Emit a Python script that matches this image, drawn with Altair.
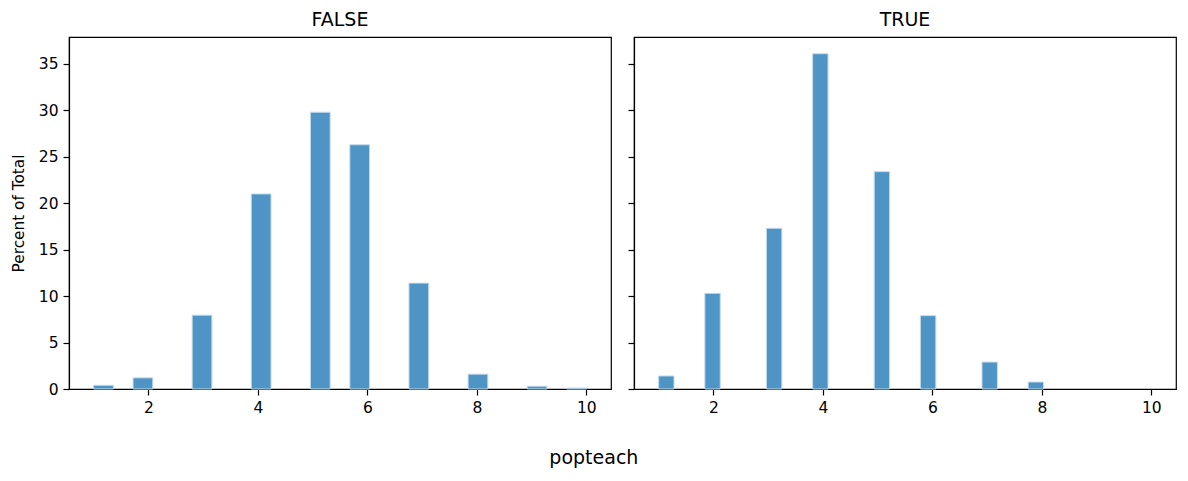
import altair as alt
import pandas as pd

# FALSE panel histogram bins (bin edges and percent of total)
false_lo = [1.00, 1.72, 2.80, 3.88, 4.96, 5.68, 6.76, 7.84, 8.92, 9.64]
false_hi = [1.36, 2.08, 3.16, 4.24, 5.32, 6.04, 7.12, 8.20, 9.28, 10.00]
false_pct = [0.4, 1.2, 7.95, 21.0, 29.8, 26.3, 11.4, 1.6, 0.3, 0.1]

# TRUE panel histogram bins
true_lo = [1.000, 1.844, 2.969, 3.813, 4.938, 5.781, 6.906, 7.750]
true_hi = [1.281, 2.125, 3.250, 4.094, 5.219, 6.063, 7.188, 8.031]
true_pct = [1.4, 10.3, 17.3, 36.1, 23.4, 7.9, 2.9, 0.75]

x_ticks = [2, 4, 6, 8, 10]
y_ticks = [0, 5, 10, 15, 20, 25, 30, 35]
x_domain = [0.55, 10.45]
y_domain = [0, 37.9]

FONT = "DejaVu Sans"


def panel(lo, hi, pct, name, first):
    df = pd.DataFrame({"lo": lo, "hi": hi, "pct": pct})
    if first:
        yax = alt.Axis(values=y_ticks, titleFontSize=15.3, titleFontWeight="normal",
                       titlePadding=11.5, titleColor="black")
        ytitle = "Percent of Total"
    else:
        yax = alt.Axis(values=y_ticks, labels=False)
        ytitle = None
    return (
        alt.Chart(df, title=alt.TitleParams(name, fontSize=19, fontWeight="normal",
                                            font=FONT, color="black", offset=7))
        .mark_rect(color="#4e94c4", stroke="#c2dbed", strokeWidth=1)
        .encode(
            x=alt.X("lo:Q", title=None,
                    scale=alt.Scale(domain=x_domain, nice=False, zero=False),
                    axis=alt.Axis(values=x_ticks)),
            x2="hi:Q",
            y=alt.Y("pct:Q", title=ytitle,
                    scale=alt.Scale(domain=y_domain, nice=False, zero=True),
                    axis=yax),
            y2=alt.datum(0),
        )
        .properties(width=542, height=352)
    )


left = panel(false_lo, false_hi, false_pct, "FALSE", True)
right = panel(true_lo, true_hi, true_pct, "TRUE", False)

chart = (
    alt.hconcat(left, right, spacing=14)
    .properties(
        title=alt.TitleParams("popteach", orient="bottom", anchor="middle",
                              fontSize=19, fontWeight="normal", font=FONT,
                              color="black", offset=33),
        padding={"left": 11, "top": 10, "right": 8, "bottom": 8},
    )
    .configure(font=FONT)
    .configure_view(stroke="black", strokeWidth=1.2)
    .configure_axis(
        grid=False,
        labelFont=FONT,
        labelFontSize=15.5,
        labelColor="black",
        labelPadding=5,
        tickColor="black",
        tickSize=6,
        tickWidth=1.2,
        domainColor="black",
        domainWidth=1.2,
        titleFont=FONT,
    )
)

chart.save("out.html", embed_options={"renderer": "svg", "actions": False})
